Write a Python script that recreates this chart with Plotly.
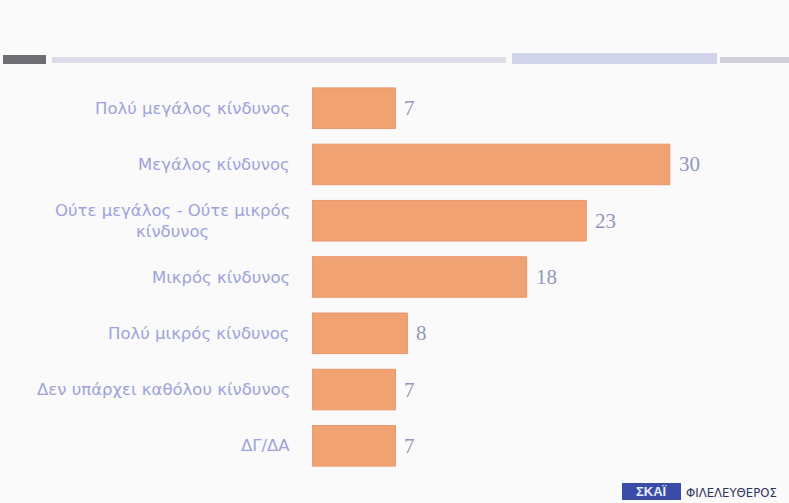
import plotly.graph_objects as go

categories = [
    "Πολύ μεγάλος κίνδυνος",
    "Μεγάλος κίνδυνος",
    "Ούτε μεγάλος - Ούτε μικρός<br>κίνδυνος",
    "Μικρός κίνδυνος",
    "Πολύ μικρός κίνδυνος",
    "Δεν υπάρχει καθόλου κίνδυνος",
    "ΔΓ/ΔΑ",
]
values = [7, 30, 23, 18, 8, 7, 7]

W, H = 789, 503
L, R, T, B = 312, 0, 80, 29
PW, PH = W - L - R, H - T - B

def px(x):
    return (x - L) / PW

def py(y):
    return (H - B - y) / PH

fig = go.Figure()
fig.add_trace(go.Bar(
    x=values, y=list(range(len(categories))), orientation="h",
    width=0.72,
    marker=dict(color="#f1a273", line=dict(color="#e9966a", width=1)),
    hoverinfo="skip",
))

annotations = []
for i, c in enumerate(categories):
    annotations.append(dict(
        x=px(292), xref="paper", y=i, yref="y", text=c, showarrow=False,
        xanchor="right", yanchor="middle", align="center",
        font=dict(family="DejaVu Sans", size=16.5, color="#9fa2da"),
    ))
for i, v in enumerate(values):
    annotations.append(dict(
        x=v, xref="x", y=i, yref="y", text=str(v), showarrow=False,
        xanchor="left", yanchor="middle", xshift=7,
        font=dict(family="Liberation Serif", size=21, color="#9198bb"),
    ))

# logo
annotations.append(dict(
    x=px(651), xref="paper", y=py(491.5), yref="paper", text="<b>ΣΚΑΪ</b>",
    showarrow=False, xanchor="center", yanchor="middle",
    font=dict(family="Liberation Sans", size=13, color="#e8ecff"),
))
annotations.append(dict(
    x=px(684), xref="paper", y=py(492), yref="paper", text="ΦΙΛΕΛΕΥΘΕΡΟΣ",
    showarrow=False, xanchor="left", yanchor="middle",
    font=dict(family="Liberation Sans Narrow, DejaVu Sans Condensed", size=13, color="#30345c"),
))

shapes = [
    dict(type="rect", xref="paper", yref="paper", x0=px(3), x1=px(46), y0=py(64), y1=py(55),
         fillcolor="#6e6e74", line=dict(width=0), layer="above"),
    dict(type="rect", xref="paper", yref="paper", x0=px(52), x1=px(506), y0=py(63), y1=py(57),
         fillcolor="#dcdde9", line=dict(width=0), layer="above"),
    dict(type="rect", xref="paper", yref="paper", x0=px(512), x1=px(717), y0=py(64), y1=py(53),
         fillcolor="#d2d4ec", line=dict(width=0), layer="above"),
    dict(type="rect", xref="paper", yref="paper", x0=px(720), x1=px(789), y0=py(63), y1=py(57),
         fillcolor="#cfd0d8", line=dict(width=0), layer="above"),
    dict(type="rect", xref="paper", yref="paper", x0=px(622), x1=px(681), y0=py(500), y1=py(483),
         fillcolor="#3a4ca8", line=dict(width=0), layer="above"),
]

fig.update_layout(
    width=W, height=H,
    margin=dict(l=L, r=R, t=T, b=B, pad=0),
    paper_bgcolor="#f9faf9", plot_bgcolor="#f9faf9",
    showlegend=False, bargap=0.28,
    xaxis=dict(range=[0, 40], visible=False, fixedrange=True),
    yaxis=dict(range=[6.5, -0.5], visible=False, fixedrange=True),
    annotations=annotations, shapes=shapes,
)

fig.write_html("out.html")
